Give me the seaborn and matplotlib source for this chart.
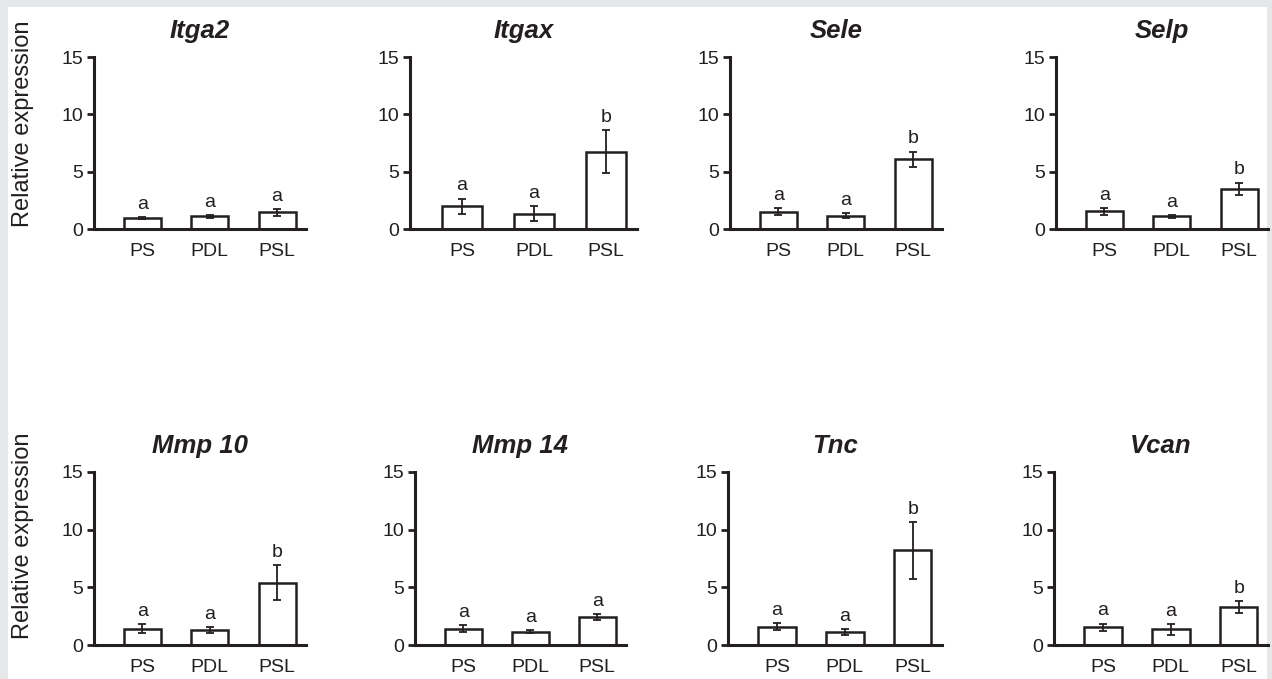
import numpy as np
import pandas as pd
import matplotlib
matplotlib.use("Agg")
import matplotlib.pyplot as plt
from matplotlib.patches import Rectangle
import seaborn as sns

# --- data ---
groups = ["PS", "PDL", "PSL"]
genes = ["Itga2", "Itgax", "Sele", "Selp", "Mmp 10", "Mmp 14", "Tnc", "Vcan"]

itga2 = [0.95, 1.10, 1.45]
itga2_err = [0.10, 0.12, 0.30]
itgax = [2.00, 1.35, 6.75]
itgax_err = [0.65, 0.65, 1.85]
sele = [1.50, 1.15, 6.10]
sele_err = [0.30, 0.22, 0.65]
selp = [1.55, 1.10, 3.50]
selp_err = [0.30, 0.12, 0.55]
mmp10 = [1.40, 1.30, 5.40]
mmp10_err = [0.40, 0.27, 1.50]
mmp14 = [1.40, 1.15, 2.45]
mmp14_err = [0.30, 0.13, 0.26]
tnc = [1.60, 1.10, 8.20]
tnc_err = [0.32, 0.25, 2.45]
vcan = [1.55, 1.35, 3.30]
vcan_err = [0.30, 0.48, 0.50]

letters = {
    "Itga2": ["a", "a", "a"],
    "Itgax": ["a", "a", "b"],
    "Sele": ["a", "a", "b"],
    "Selp": ["a", "a", "b"],
    "Mmp 10": ["a", "a", "b"],
    "Mmp 14": ["a", "a", "a"],
    "Tnc": ["a", "a", "b"],
    "Vcan": ["a", "a", "b"],
}

means = [itga2, itgax, sele, selp, mmp10, mmp14, tnc, vcan]
errs = [itga2_err, itgax_err, sele_err, selp_err, mmp10_err, mmp14_err, tnc_err, vcan_err]

rows = []
for g, m, e in zip(genes, means, errs):
    for grp, v, s in zip(groups, m, e):
        rows.append({"gene": g, "group": grp, "value": v, "err": s})
df = pd.DataFrame(rows)

# --- styling ---
sns.set_style("ticks")
plt.rcParams["font.family"] = ["Liberation Sans", "DejaVu Sans"]
INK = "#231f20"
W, H = 1272, 679

fig = plt.figure(figsize=(W / 100, H / 100), dpi=100)
fig.patch.set_facecolor("#e6e7e8")
fig.add_artist(Rectangle((8 / W, 0), (1267 - 8) / W, (H - 7) / H,
                         transform=fig.transFigure, facecolor="white",
                         edgecolor="none", zorder=0))

# panel boxes in pixels: (left, right, top, bottom)
boxes = [
    (94, 306, 57, 229), (410, 637, 57, 229), (730, 942, 57, 229), (1056, 1268, 57, 229),
    (94, 306, 472, 645), (415, 626, 472, 645), (728, 942, 472, 645), (1054, 1268, 472, 645),
]

for gene, (l, r, t, b) in zip(genes, boxes):
    ax = fig.add_axes([l / W, 1 - b / H, (r - l) / W, (b - t) / H])
    ax.set_facecolor("none")
    sub = df[df["gene"] == gene]
    sns.barplot(data=sub, x="group", y="value", order=groups, color="white",
                saturation=1, edgecolor=INK, linewidth=1.8, width=0.55,
                errorbar=None, ax=ax)
    xs = [p.get_x() + p.get_width() / 2 for p in ax.patches]
    ax.errorbar(xs, sub["value"], yerr=sub["err"], fmt="none", ecolor=INK,
                elinewidth=1.3, capsize=2.8, capthick=1.3, zorder=3)
    for x, v, e, lab in zip(xs, sub["value"], sub["err"], letters[gene]):
        ax.annotate(lab, (x, v + e), xytext=(0, 3), textcoords="offset points",
                    ha="center", va="bottom", fontsize=14, color=INK)

    ax.set_ylim(0, 15)
    ax.set_xlim(-0.72, 2.43)
    ax.set_yticks([0, 5, 10, 15])
    ax.set_xlabel("")
    ax.set_ylabel("")
    sns.despine(ax=ax)
    for s in ["left", "bottom"]:
        ax.spines[s].set_linewidth(2.2)
        ax.spines[s].set_color(INK)
        ax.spines[s].set_capstyle("projecting")
    ax.tick_params(axis="y", length=5, width=2, pad=3, labelsize=14,
                   colors=INK)
    ax.tick_params(axis="x", length=0, pad=10, labelsize=14, colors=INK)
    ax.set_title(gene, fontsize=18.5, fontweight="bold", style="italic",
                 color=INK, pad=14)

for yc in [124, 536]:
    fig.text(23 / W, 1 - yc / H, "Relative expression", rotation=90,
             ha="center", va="center", fontsize=17, color=INK)

fig.savefig("out.png", dpi=100, facecolor=fig.get_facecolor())
